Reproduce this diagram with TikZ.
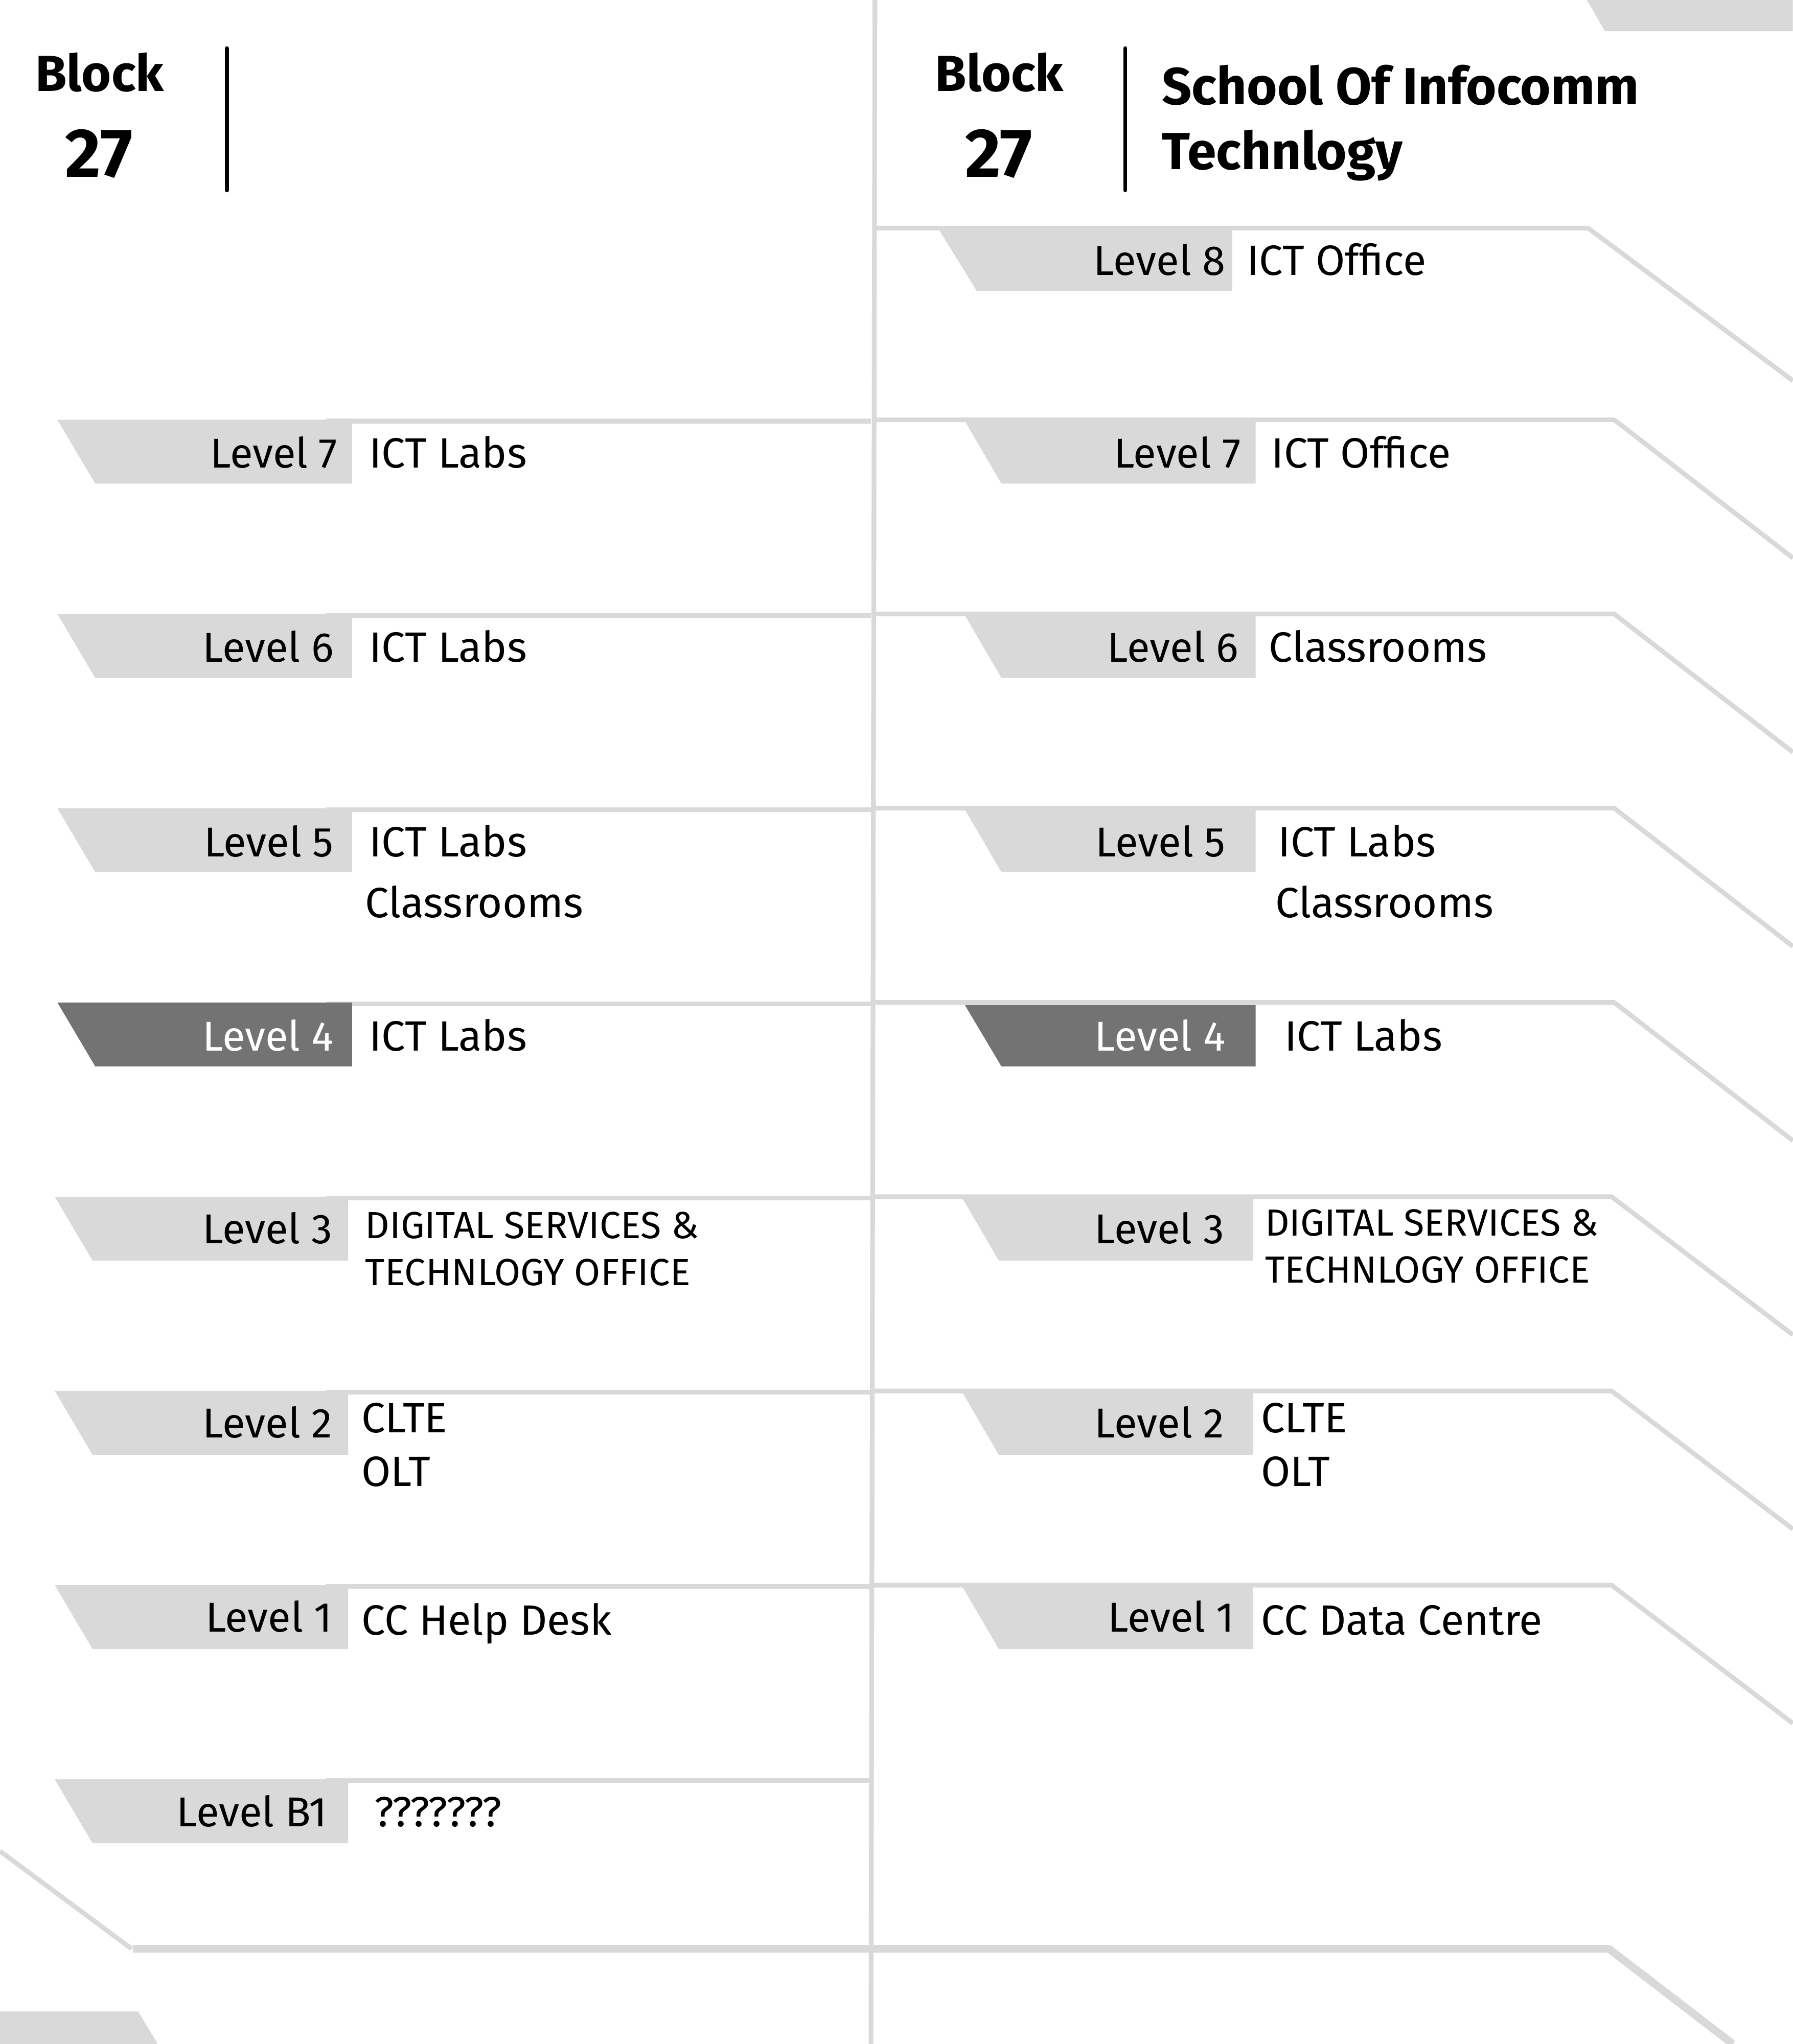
\documentclass[tikz,border=0pt]{standalone}
\usepackage{fontspec}
\setmainfont{Fira Sans}
\definecolor{lightg}{HTML}{D9D9D9}
\definecolor{darkg}{HTML}{737373}
\begin{document}
\begin{tikzpicture}[x=1pt,y=-1pt,
  gline/.style={draw=lightg,line width=3.6pt},
  thickline/.style={draw=lightg,line width=6pt},
  bar/.style={draw=black,line width=3pt,line cap=round},
  lvl/.style={anchor=base east,inner sep=0pt,font=\fontsize{32}{38}\selectfont},
  lvlw/.style={lvl,text=white},
  cnt/.style={anchor=base west,inner sep=0pt,font=\fontsize{32.5}{39}\selectfont},
  cnts/.style={anchor=base west,inner sep=0pt,font=\fontsize{29}{34}\selectfont},
  head/.style={anchor=base west,inner sep=0pt,font=\fontsize{40}{47}\selectfont\bfseries},
  headb/.style={anchor=base west,inner sep=0pt,font=\fontsize{39}{46}\selectfont\bfseries},
  num/.style={anchor=base,inner sep=0pt,font=\fontsize{53}{62}\selectfont\bfseries}]
\useasboundingbox (0,0) rectangle (1375,1568);
\fill[white] (0,0) rectangle (1375,1568);
% corner decorations
\fill[lightg] (1217,0) -- (1375,0) -- (1375,24) -- (1231,24) -- cycle;
\fill[lightg] (0,1543) -- (106,1543) -- (121,1568) -- (0,1568) -- cycle;
% centre line
\draw[gline] (671,0) -- (668,1568);
% right column lines
\draw[gline,line join=round] (670,175) -- (1218,175) -- (1375,292);
\foreach \y in {322,471,620,769}{
  \draw[gline,line join=round] (670,\y) -- (1238,\y) -- (1375,\y+106);}
\foreach \y in {918,1067,1216}{
  \draw[gline,line join=round] (670,\y) -- (1236,\y) -- (1375,\y+106);}
% left column lines
\foreach \y in {322,471,620,769,918,1067,1216,1365}{
  \draw[gline] (250,\y+1) -- (668,\y+1);}
% bottom line
\draw[thickline,line join=round] (102,1495) -- (1234,1495) -- (1329,1568);
\draw[gline] (0,1420) -- (101,1495);
% left boxes
\foreach \y in {322,471,620}{
  \fill[lightg] (44,\y) -- (270,\y) -- (270,\y+49) -- (73,\y+49) -- cycle;}
\fill[darkg] (44,769) -- (270,769) -- (270,818) -- (73,818) -- cycle;
\foreach \y in {918,1067,1216,1365}{
  \fill[lightg] (42,\y) -- (267,\y) -- (267,\y+49) -- (71,\y+49) -- cycle;}
% right boxes
\fill[lightg] (720,176) -- (945,176) -- (945,223) -- (749,223) -- cycle;
\foreach \y in {323,472,621}{
  \fill[lightg] (740,\y) -- (963,\y) -- (963,\y+48) -- (768,\y+48) -- cycle;}
\fill[darkg] (740,771) -- (963,771) -- (963,818) -- (768,818) -- cycle;
\foreach \y in {919,1068,1217}{
  \fill[lightg] (738,\y) -- (961,\y) -- (961,\y+48) -- (766,\y+48) -- cycle;}
% header
\node[headb] (blkL) at (27,70) {Block};
\node[num] (numL) at (76,136) {27};
\draw[bar] (174,37) -- (174,146);
\node[headb] (blkR) at (717,70) {Block};
\node[num] (numR) at (766,136) {27};
\draw[bar] (863,37) -- (863,146);
\node[head] (school) at (891,80) {School Of Infocomm};
\node[head] (techn) at (891,130) {Technlogy};
% left labels
\node[lvl] (l7) at (259,359) {Level 7};
\node[cnt] (c7) at (283,359) {ICT Labs};
\node[lvl] (l6) at (256,508) {Level 6};
\node[cnt] (c6) at (283,508) {ICT Labs};
\node[lvl] (l5) at (256,657) {Level 5};
\node[cnt] (c5a) at (283,657) {ICT Labs};
\node[cnt] (c5b) at (280,704) {Classrooms};
\node[lvlw] (l4) at (256,806) {Level 4};
\node[cnt] (c4) at (283,806) {ICT Labs};
\node[lvl] (l3) at (255,954) {Level 3};
\node[cnts] (c3a) at (280,950) {DIGITAL SERVICES \&};
\node[cnts] (c3b) at (280,986) {TECHNLOGY OFFICE};
\node[lvl] (l2) at (255,1103) {Level 2};
\node[cnt] (c2a) at (277,1099) {CLTE};
\node[cnt] (c2b) at (277,1140) {OLT};
\node[lvl] (l1) at (255,1252) {Level 1};
\node[cnt] (c1) at (277,1254) {CC Help Desk};
\node[lvl] (lb1) at (251,1401) {Level B1};
\node[cnt] (cb1) at (287,1401) {???????};
% right labels
\node[lvl] (r8) at (940,211) {Level 8};
\node[cnt] (d8) at (956,211) {ICT Office};
\node[lvl] (r7) at (952,359) {Level 7};
\node[cnt] (d7) at (975,359) {ICT Office};
\node[lvl] (r6) at (950,508) {Level 6};
\node[cnt] (d6) at (973,508) {Classrooms};
\node[lvl] (r5) at (940,657) {Level 5};
\node[cnt] (d5a) at (980,657) {ICT Labs};
\node[cnt] (d5b) at (978,704) {Classrooms};
\node[lvlw] (r4) at (940,806) {Level 4};
\node[cnt] (d4) at (985,806) {ICT Labs};
\node[lvl] (r3) at (939,954) {Level 3};
\node[cnts] (d3a) at (970,948) {DIGITAL SERVICES \&};
\node[cnts] (d3b) at (970,984) {TECHNLOGY OFFICE};
\node[lvl] (r2) at (939,1103) {Level 2};
\node[cnt] (d2a) at (967,1099) {CLTE};
\node[cnt] (d2b) at (967,1140) {OLT};
\node[lvl] (r1) at (947,1252) {Level 1};
\node[cnt] (d1) at (967,1254) {CC Data Centre};
\end{tikzpicture}
\end{document}
